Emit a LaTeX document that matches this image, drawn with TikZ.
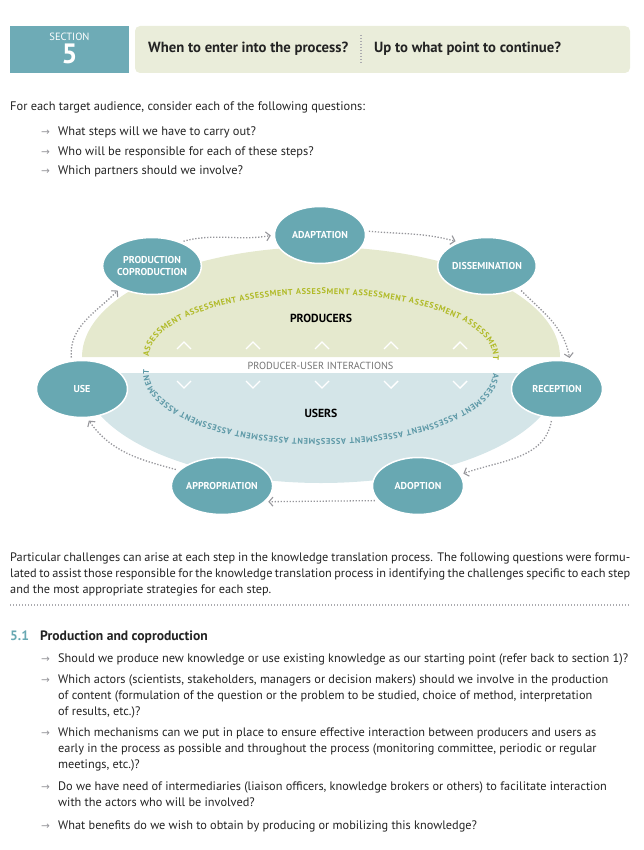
\documentclass[tikz,border=0pt]{standalone}
\usepackage{fontspec}
\setmainfont{PT Sans}
\newfontfamily\arrowfont{DejaVu Sans}
\usetikzlibrary{shapes.geometric,arrows.meta,decorations.text}
\definecolor{nodeteal}{RGB}{104,168,178}
\definecolor{boxteal}{RGB}{110,171,182}
\definecolor{cream}{RGB}{234,237,218}
\definecolor{prodfill}{RGB}{229,233,206}
\definecolor{userfill}{RGB}{212,229,232}
\definecolor{assessgreen}{RGB}{176,186,38}
\definecolor{assessblue}{RGB}{92,152,166}
\definecolor{dotgray}{RGB}{150,150,155}
\definecolor{bodytext}{RGB}{35,35,35}
\newcommand\assessfont{\fontsize{8.3}{10}\selectfont\bfseries}

\begin{document}
\begin{tikzpicture}[
    x=1pt, y=1pt,
    every node/.style={inner sep=0pt, text=bodytext},
    body/.style={anchor=base west, font=\fontsize{12.4}{14}\selectfont},
    item/.style={anchor=base west, font=\fontsize{12.3}{14}\selectfont},
    bullet/.style={anchor=base west, text=dotgray, font=\arrowfont\fontsize{10.5}{12}\selectfont},
    head/.style={anchor=base west, font=\fontsize{14.7}{16}\selectfont\bfseries},
    stage/.style={ellipse, fill=nodeteal, draw=white, line width=1.5pt, minimum width=91pt,
      minimum height=57pt, text=white, align=center, font=\fontsize{10}{11.5}\selectfont\bfseries},
    flow/.style={draw=dotgray, line width=1.3pt, dash pattern=on 1.3pt off 1.7pt,
      -{Straight Barb[length=4pt,width=9pt,line width=1.1pt]}, shorten >=3pt, shorten <=3pt},
    chev/.style={draw=white, line width=1.4pt},
    group/.style={font=\fontsize{11.7}{13}\selectfont\bfseries, text=black},
    rule/.style={draw=dotgray!80, line width=1.2pt, dash pattern=on 1.2pt off 1.8pt}
  ]
  \useasboundingbox (0,0) rectangle (644,-850);

  \node[fill=boxteal, minimum width=119pt, minimum height=47pt] (secbox) at (69.5,-49.5) {};
  \node[anchor=base, text=white, font=\fontsize{10.5}{12}\selectfont] (seclabel) at (69.5,-40.5) {SECTION};
  \node[anchor=base, text=white, font=\fontsize{28}{30}\selectfont\bfseries] (secnum) at (69.5,-64) {5};
  \node[fill=cream, rounded corners=5pt, minimum width=495pt, minimum height=47pt] (titlebox) at (382.5,-49.5) {};
  \node[head] (when) at (148,-53) {When to enter into the process?};
  \draw[rule] (361,-35) -- (361,-63);
  \node[head] (upto) at (374,-53) {Up to what point to continue?};

  \node[body] (intro) at (10,-110.5) {For each target audience, consider each of the following questions:};
  \foreach \n/\y/\t in {1/136/{What steps will we have to carry out?},
      2/155.5/{Who will be responsible for each of these steps?},
      3/175/{Which partners should we involve?}} {
    \node[bullet] (b\n) at (41,-\y) {→};
    \node[body] (q\n) at (58,-\y) {\t};
  }

  \fill[prodfill] (82,-357) arc[start angle=180, end angle=0, x radius=239, y radius=110] -- cycle;
  \fill[userfill] (82,-373) arc[start angle=180, end angle=360, x radius=239, y radius=110] -- cycle;
  \node[group] (producers) at (321,-318) {PRODUCERS};
  \node[group] (users) at (321,-413) {USERS};
  \node[text=black!55, font=\fontsize{10.3}{12}\selectfont] (inter) at (320.5,-366) {PRODUCER-USER INTERACTIONS};
  \foreach \x in {184,253,322,391,460} {
    \draw[chev] (\x-7,-349) -- (\x,-342) -- (\x+7,-349);
    \draw[chev] (\x-7,-381) -- (\x,-388) -- (\x+7,-381);
  }
  \path[decorate, decoration={text along path, text align={fit to path},
      text={|\assessfont\color{assessgreen}|ASSESSMENT ASSESSMENT ASSESSMENT ASSESSMENT ASSESSMENT ASSESSMENT ASSESSMENT}}]
    (149,-357) arc[start angle=180, end angle=-3, x radius=172, y radius=63];
  \path[decorate, decoration={text along path, text align={fit to path},
      text={|\assessfont\color{assessblue}|ASSESSMENT ASSESSMENT ASSESSMENT ASSESSMENT ASSESSMENT ASSESSMENT ASSESSMENT}}]
    (493,-373) arc[start angle=0, end angle=-183, x radius=172, y radius=66];

  \node[stage] (prod) at (152,-266) {PRODUCTION\\COPRODUCTION};
  \node[stage] (adapt) at (320,-235) {ADAPTATION};
  \node[stage] (diss) at (487,-266) {DISSEMINATION};
  \node[stage] (use) at (82,-389) {USE};
  \node[stage] (recep) at (557,-389) {RECEPTION};
  \node[stage] (approp) at (222,-486) {APPROPRIATION};
  \node[stage] (adopt) at (418,-486) {ADOPTION};

  \draw[flow] (use.110) to[out=95,in=225] (prod.215);
  \draw[flow] (prod.40) to[out=15,in=190] (adapt.180);
  \draw[flow] (adapt.5) to[out=-5,in=165] (diss.140);
  \draw[flow] (diss.-35) to[out=-45,in=100] (recep.65);
  \draw[flow] (recep.-100) to[out=-100,in=20] (adopt.15);
  \draw[flow] (adopt.200) -- (approp.-20);
  \draw[flow] (approp.160) to[out=165,in=-55] (use.-80);

  \node[item] (para1) at (10,-561) {\makebox[620pt][s]{Particular challenges can arise at each step in the knowledge translation process. The following questions were formu-}};
  \node[item] (para2) at (10,-577) {\makebox[620pt][s]{lated to assist those responsible for the knowledge translation process in identifying the challenges specific to each step}};
  \node[item] (para3) at (10,-593) {and the most appropriate strategies for each step.};
  \draw[rule] (10,-605) -- (630,-605);

  \node[head, text=nodeteal, font=\fontsize{13.6}{15}\selectfont\bfseries] (secno) at (10,-640) {5.1};
  \node[head, font=\fontsize{13.6}{15}\selectfont\bfseries] (sechead) at (40,-640) {Production and coproduction};
  \foreach \n/\y in {1/662.5,2/683.5,3/736.5,4/790,5/829}
    \node[bullet] (p\n) at (41,-\y) {→};
  \foreach \n/\y/\t in {1/662.5/{Should we produce new knowledge or use existing knowledge as our starting point (refer back to section 1)?},
      2/683.5/{Which actors (scientists, stakeholders, managers or decision makers) should we involve in the production},
      3/699.5/{of content (formulation of the question or the problem to be studied, choice of method, interpretation},
      4/715.5/{of results, etc.)?},
      5/736.5/{Which mechanisms can we put in place to ensure effective interaction between producers and users as},
      6/752.5/{early in the process as possible and throughout the process (monitoring committee, periodic or regular},
      7/768.5/{meetings, etc.)?},
      8/790/{Do we have need of intermediaries (liaison officers, knowledge brokers or others) to facilitate interaction},
      9/806/{with the actors who will be involved?},
      10/829/{What benefits do we wish to obtain by producing or mobilizing this knowledge?}}
    \node[item] (l\n) at (58,-\y) {\t};
\end{tikzpicture}
\end{document}
